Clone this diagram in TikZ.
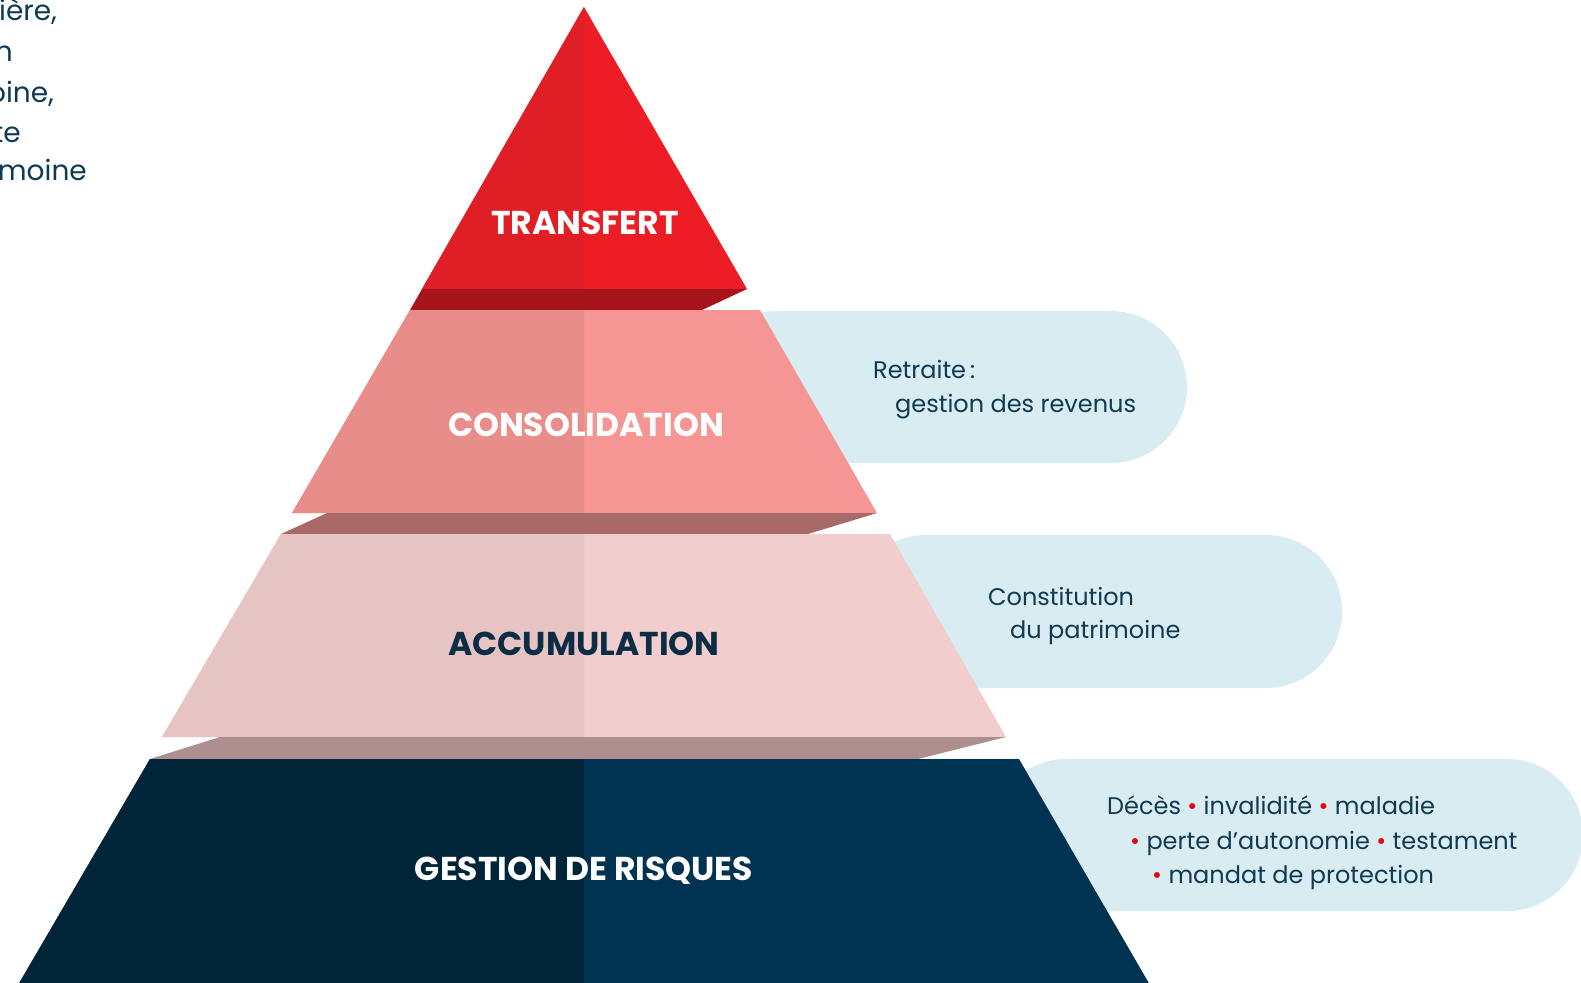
\documentclass[tikz,border=0pt]{standalone}
\usepackage{fontspec}
\setmainfont{Poppins}
\definecolor{trL}{HTML}{E01E25}
\definecolor{trR}{HTML}{ED1D25}
\definecolor{trB}{HTML}{A8141B}
\definecolor{coL}{HTML}{E98D8B}
\definecolor{coR}{HTML}{F59694}
\definecolor{coB}{HTML}{A86A69}
\definecolor{acL}{HTML}{E7C4C4}
\definecolor{acR}{HTML}{F2CDCE}
\definecolor{acB}{HTML}{AD8F8F}
\definecolor{geL}{HTML}{002438}
\definecolor{geR}{HTML}{003352}
\definecolor{boxblue}{HTML}{D9ECF2}
\definecolor{textteal}{HTML}{0E3A52}
\definecolor{navytitle}{HTML}{0C2D45}
\definecolor{bulletred}{HTML}{E30613}
\newcommand{\redbul}{{\color{bulletred}\textbullet}}
\begin{document}
\begin{tikzpicture}[x=1pt,y=-1pt,
  title/.style={font=\fontsize{33}{40}\selectfont\bfseries, anchor=base, inner sep=0pt},
  boxtext/.style={font=\fontsize{24}{29}\selectfont, text=textteal, anchor=base west, inner sep=0pt},
  frag/.style={font=\fontsize{28}{34}\selectfont, text=textteal, anchor=base east, inner sep=0pt},
  pill/.style={fill=boxblue, rounded corners=76pt}]
\useasboundingbox (0,0) rectangle (1581,982);
\clip (0,0) rectangle (1581,982);

% cut-off text at top left
\node[frag] (f1) at (57,21) {ière,};
\node[frag] (f2) at (13,62) {n};
\node[frag] (f3) at (54,102) {oine,};
\node[frag] (f4) at (21,142) {te};
\node[frag] (f5) at (87,180) {moine};

% light blue pills behind the pyramid
\fill[pill] (700,311) rectangle (1187,463);
\fill[pill] (850,535) rectangle (1342,688);
\fill[pill] (990,759) rectangle (1583,911);

% TRANSFERT
\fill[trR] (584,7) -- (747,289) -- (422,289) -- cycle;
\fill[trL] (584,7) -- (584,289) -- (422,289) -- cycle;
\fill[trB] (422,289) -- (747,289) -- (702,310) -- (410,310) -- cycle;

% CONSOLIDATION
\fill[coR] (410,310) -- (760,310) -- (877,513) -- (292,513) -- cycle;
\fill[coL] (410,310) -- (584,310) -- (584,513) -- (292,513) -- cycle;
\fill[coB] (327,513) -- (877,513) -- (808,534) -- (281,534) -- cycle;

% ACCUMULATION
\fill[acR] (281,534) -- (890,534) -- (1006,737) -- (162,737) -- cycle;
\fill[acL] (281,534) -- (584,534) -- (584,737) -- (162,737) -- cycle;
\fill[acB] (220,737) -- (1006,737) -- (918,759) -- (150,759) -- cycle;

% GESTION DE RISQUES
\fill[geR] (150,759) -- (1019,759) -- (1154,992) -- (14,992) -- cycle;
\fill[geL] (150,759) -- (584,759) -- (584,992) -- (14,992) -- cycle;

% titles
\node[title, text=white] (t1) at (585,234) {TRANSFERT};
\node[title, text=white] (t2) at (586,436) {CONSOLIDATION};
\node[title, text=navytitle] (t3) at (584,655) {ACCUMULATION};
\node[title, text=white] (t4) at (584,880) {GESTION DE RISQUES};

% pill texts
\node[boxtext] (r1) at (873,378) {Retraite\,:};
\node[boxtext] (r2) at (895,412) {gestion des revenus};
\node[boxtext] (c1) at (988,605) {Constitution};
\node[boxtext] (c2) at (1010,638) {du patrimoine};
\node[boxtext] (d1) at (1107,814) {Décès \redbul{} invalidité \redbul{} maladie};
\node[boxtext] (d2) at (1130,849) {\redbul{} perte d’autonomie \redbul{} testament};
\node[boxtext] (d3) at (1152,883) {\redbul{} mandat de protection};
\end{tikzpicture}
\end{document}
